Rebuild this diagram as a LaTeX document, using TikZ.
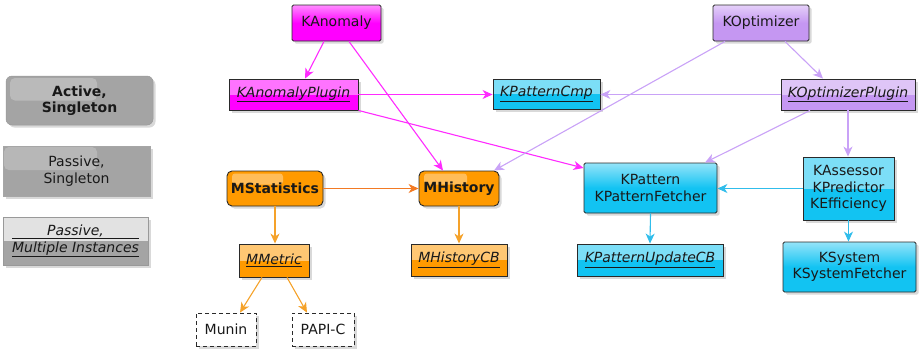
\documentclass[tikz,border=0pt]{standalone}
\usepackage{fontspec}
\setmainfont{DejaVu Sans}
\usetikzlibrary{arrows.meta,shadows}

% component colours
\definecolor{magK}{HTML}{FF00FF}
\definecolor{lavK}{HTML}{C597F2}
\definecolor{cyanK}{HTML}{12C3F2}
\definecolor{oraM}{HTML}{FF9A00}
\definecolor{legGray}{HTML}{A4A4A4}
\definecolor{legLight}{HTML}{E2E2E2}
% connector colours
\definecolor{edgeMag}{HTML}{FF2BFF}
\definecolor{edgeLav}{HTML}{C9A2F7}
\definecolor{edgeCyan}{HTML}{30BDEB}
\definecolor{edgeOra}{HTML}{F5A22A}
\definecolor{edgeOraDark}{HTML}{F27A24}
\definecolor{frameK}{HTML}{2A2A2A}

\newlength\milen

\tikzset{
  basefont/.style={font=\fontsize{14}{16.5}\selectfont},
  box/.style={draw=frameK, line width=0.9pt, inner sep=0pt, align=center, basefont,
    text=black!90,
    drop shadow={shadow xshift=2.5pt, shadow yshift=-2.5pt, opacity=0.3, fill=black!50}},
  % passive singleton: soft gradient on the upper half
  passive/.style={box, rounded corners=1.5pt, top color=#1!45!white, bottom color=#1, middle color=#1},
  % passive, multiple instances: light upper half
  multi/.style={box, fill=#1,
    path picture={\fill[white,opacity=0.45] (path picture bounding box.north west) rectangle (path picture bounding box.east);}},
  % active singleton: rounded, bold, small gloss patch
  active/.style={box, rounded corners=5pt, fill=#1, font=\fontsize{14}{16.5}\selectfont\bfseries,
    path picture={\fill[white,opacity=0.35,rounded corners=3pt]
      ([shift={(5pt,-2.5pt)}]path picture bounding box.north west) rectangle
      ([shift={(8pt,4pt)}]path picture bounding box.center);}},
  ext/.style={box, fill=white, dash pattern=on 4pt off 3pt, line width=0.8pt},
  dep/.style={line width=1.1pt, draw=#1, -{Stealth[length=10pt,width=9pt,inset=3pt]}},
  legbox/.style={inner sep=0pt, align=center, basefont, text=black!90,
    drop shadow={shadow xshift=2.5pt, shadow yshift=-2.5pt, opacity=0.3, fill=black!50}},
}

\begin{document}
\settowidth{\milen}{\fontsize{14}{16.5}\selectfont\itshape Multiple Instances}
\begin{tikzpicture}[x=1pt,y=-1pt]
\useasboundingbox (0,0) rectangle (922,354);

% legend
\node[legbox, fill=legGray, draw=black!40, line width=0.5pt, rounded corners=6pt,
  font=\fontsize{14}{16.5}\selectfont\bfseries,
  minimum width=147pt, minimum height=49pt,
  path picture={\fill[white,opacity=0.25,rounded corners=5pt]
    ([shift={(4pt,-2pt)}]path picture bounding box.north west) rectangle
    ([shift={(17.5pt,0pt)}]path picture bounding box.center);}]
  (legA) at (79.5,100.5) {Active,\\Singleton};
\node[legbox, fill=legGray, draw=black!35, line width=0.5pt,
  minimum width=147pt, minimum height=50pt,
  path picture={\fill[white,opacity=0.22,rounded corners=5pt]
    ([shift={(1pt,-1pt)}]path picture bounding box.north west) rectangle
    ([shift={(20.5pt,1pt)}]path picture bounding box.center);}]
  (legP) at (76.5,171) {Passive,\\Singleton};
\node[legbox, fill=legGray, draw=black!40, line width=0.6pt,
  minimum width=145pt, minimum height=48pt,
  path picture={\fill[legLight] (path picture bounding box.north west) rectangle (path picture bounding box.east);}]
  (legM) at (75.5,241)
  {\underline{\makebox[\milen]{\itshape Passive,}}\\\underline{\itshape Multiple Instances}};

% K components
\node[passive=magK, minimum width=89pt, minimum height=36pt] (kanom) at (336.5,23) {KAnomaly};
\node[multi=magK, minimum width=129pt, minimum height=31pt] (kanomp) at (293.5,94.5) {\underline{\itshape KAnomalyPlugin}};
\node[multi=cyanK, minimum width=107pt, minimum height=30pt] (kpcmp) at (546.5,94) {\underline{\itshape KPatternCmp}};
\node[passive=lavK, minimum width=96pt, minimum height=36pt] (kopt) at (761,23) {KOptimizer};
\node[multi=lavK, minimum width=134pt, minimum height=31pt] (koptp) at (848,94.5) {\underline{\itshape KOptimizerPlugin}};
\node[passive=cyanK, minimum width=133pt, minimum height=50pt] (kpat) at (650.5,188) {KPattern\\KPatternFetcher};
\node[multi=cyanK, minimum width=146pt, minimum height=32pt] (kpucb) at (650,260) {\underline{\itshape KPatternUpdateCB}};
\node[multi=cyanK, minimum width=91pt, minimum height=63pt] (kass) at (848.5,188.5) {KAssessor\\KPredictor\\KEfficiency};
\node[passive=cyanK, minimum width=133pt, minimum height=50pt] (ksys) at (849.5,267) {KSystem\\KSystemFetcher};

% M components
\node[active=oraM, minimum width=96pt, minimum height=35pt] (mstat) at (275,188.5) {MStatistics};
\node[active=oraM, minimum width=80pt, minimum height=35pt] (mhist) at (459,188.5) {MHistory};
\node[multi=oraM, minimum width=70pt, minimum height=33pt] (mmetric) at (274,260.5) {\underline{\itshape MMetric}};
\node[multi=oraM, minimum width=96pt, minimum height=32pt] (mhistcb) at (459,260) {\underline{\itshape MHistoryCB}};

% external back ends
\node[ext, minimum width=60pt, minimum height=33pt] (munin) at (226,329.5) {Munin};
\node[ext, minimum width=62pt, minimum height=33pt] (papi) at (323,329.5) {PAPI-C};

% dependencies
\draw[dep=edgeMag] ([xshift=-12.5pt]kanom.south) -- ([xshift=11.5pt]kanomp.north);
\draw[dep=edgeMag] ([xshift=12.5pt]kanom.south) -- ([xshift=-16pt]mhist.north);
\draw[dep=edgeMag] (kanomp.east) -- (kanomp.east -| kpcmp.west);
\draw[dep=edgeMag] (kanomp.south east) -- ([yshift=20pt]kpat.west);

\draw[dep=edgeLav] ([xshift=24pt]kopt.south) -- ([xshift=-25pt]koptp.north);
\draw[dep=edgeLav] ([xshift=-36pt]kopt.south) -- ([xshift=35pt]mhist.north);
\draw[dep=edgeLav] (koptp.west) -- (koptp.west -| kpcmp.east);
\draw[dep=edgeLav] ([xshift=-38pt]koptp.south) -- ([xshift=54.5pt]kpat.north);
\draw[dep=edgeLav] (koptp.south) -- (koptp.south |- kass.north);

\draw[dep=edgeOraDark] (mstat.east) -- (mhist.west);
\draw[dep=edgeOra] (mstat.south) -- (mstat.south |- mmetric.north);
\draw[dep=edgeOra] (mhist.south) -- (mhistcb.north);
\draw[dep=edgeOra] ([xshift=-12pt]mmetric.south) -- ([xshift=14pt]munin.north);
\draw[dep=edgeOra] ([xshift=13pt]mmetric.south) -- ([xshift=-16pt]papi.north);

\draw[dep=edgeCyan] (kpat.south) -- (kpucb.north);
\draw[dep=edgeCyan] (kass.west) -- (kass.west -| kpat.east);
\draw[dep=edgeCyan] (kass.south) -- (kass.south |- ksys.north);
\end{tikzpicture}
\end{document}
